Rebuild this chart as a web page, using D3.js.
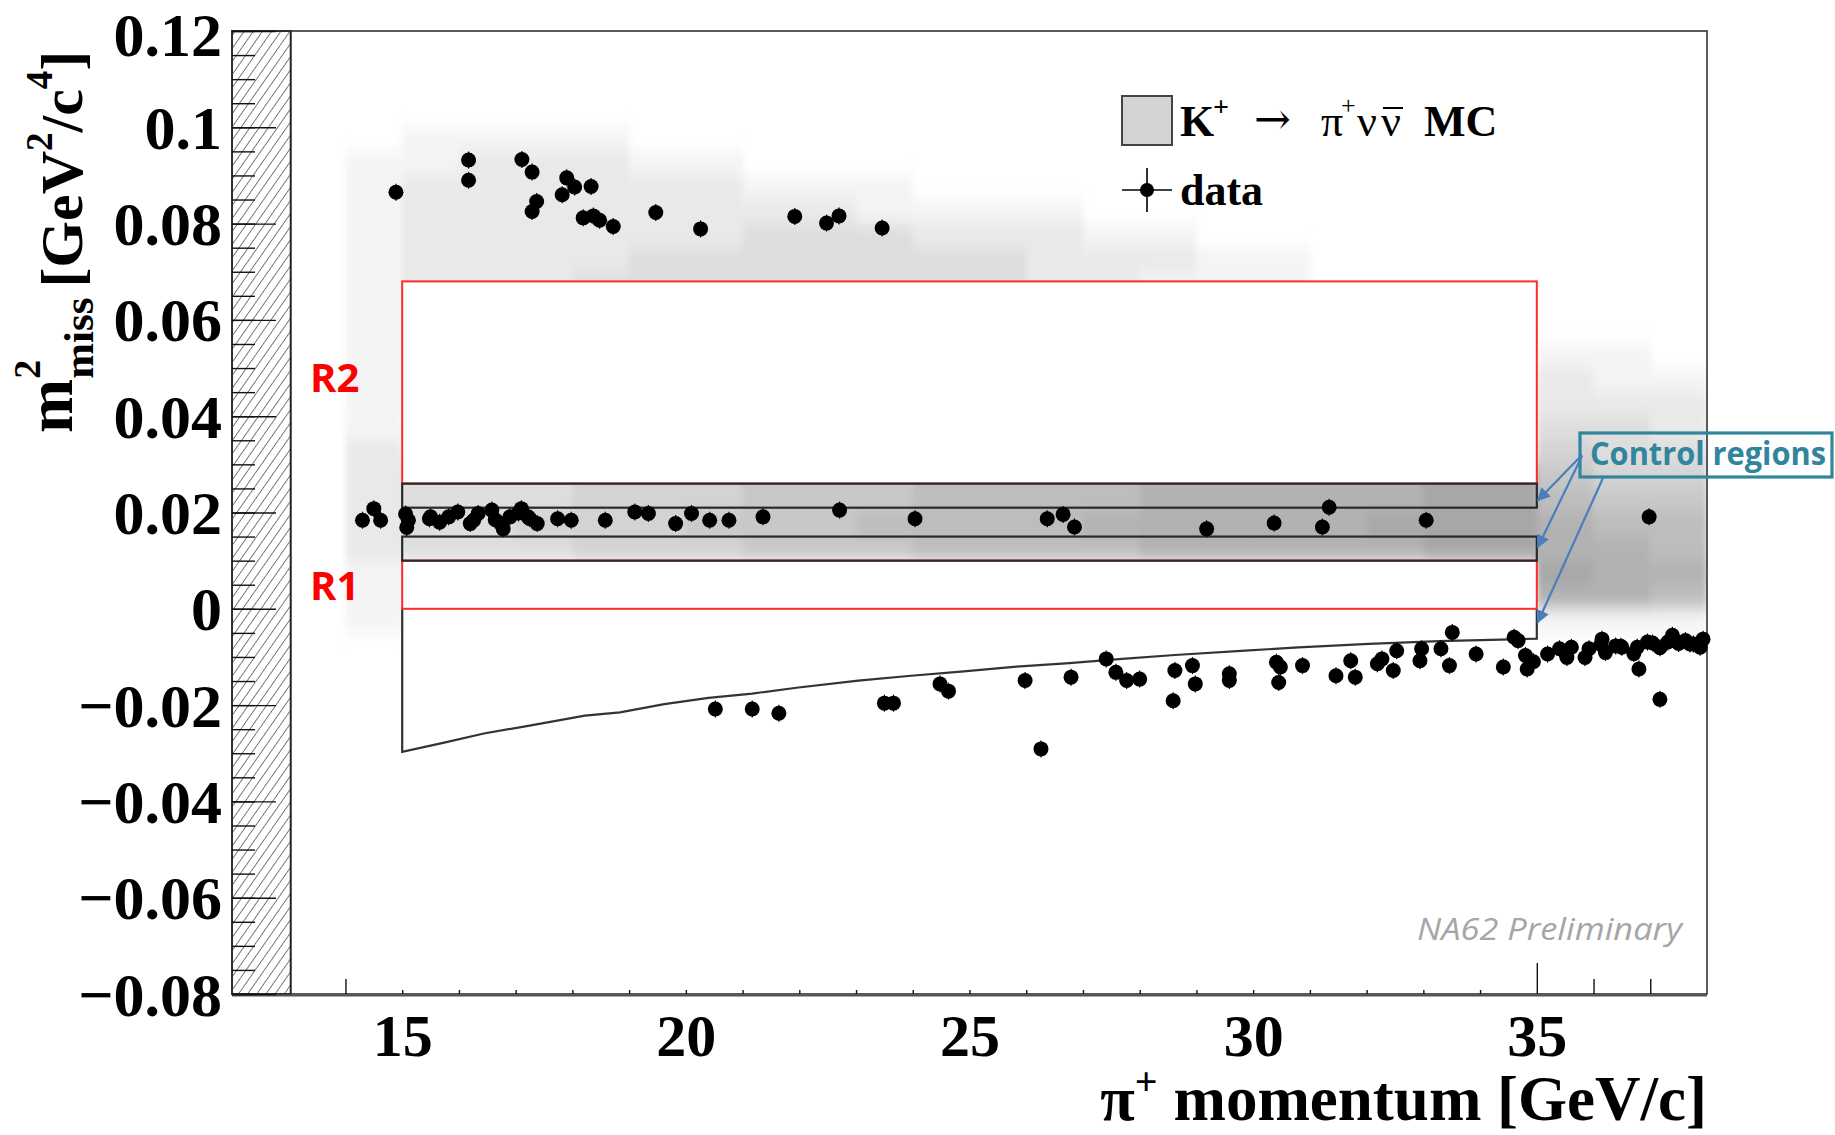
<!DOCTYPE html>
<html><head><meta charset="utf-8">
<script src="https://cdn.jsdelivr.net/npm/d3@7"></script>
<style>body{margin:0;background:#fff}svg{display:block}</style>
</head><body>
<svg id="c" width="1835" height="1135"></svg>
<script>
// ---------------- DATA ----------------
const xTickLabels = [15, 20, 25, 30, 35];
const yTickLabels = [0.12, 0.1, 0.08, 0.06, 0.04, 0.02, 0, -0.02, -0.04, -0.06, -0.08];

// MC (K+ -> pi+ nu nubar) 2D histogram: columns = momentum bins (lower edges), rows = m2 bins (lower edges)
const mcP = [14,15,16,17,18,19,20,21,22,23,24,25,26,27,28,29,30,31,32,33,34,35,36,37];
const mcM2 = [0.095,0.09,0.085,0.08,0.075,0.07,0.065,0.06,0.055,0.05,0.045,0.04,0.035,0.03,0.025,0.02,0.015,0.01,0.005,0,-0.005];
const mcRows = [
  "011110000000000000000000",
  "112221100000000000000000",
  "122222211100000000000000",
  "122222222111100000000000",
  "122222233322211000000000",
  "122223333333222110000000",
  "122233333333221110000000",
  "100000000000000000000000",
  "100000000000000000000000",
  "100000000000000000000110",
  "100000000000000000000211",
  "100000000000000000000222",
  "100000000000000000000332",
  "200000000000000000000433",
  "233344455566667777788544",
  "233344455566667777788655",
  "233444555666677777888766",
  "233344455566667777788776",
  "100000000000000000000877",
  "100000000000000000000776",
  "100000000000000000000111"
];

// data events
const dataP = [14.89,16.17,16.17,17.11,17.29,17.37,17.29,17.90,18.04,18.33,17.82,18.19,18.37,18.48,18.72,19.47,20.26,21.92,22.48,22.70,23.46,
  14.30,14.50,14.62,15.06,15.08,15.11,15.50,15.66,15.82,15.98,16.26,16.34,16.58,16.74,16.78,16.90,17.10,17.22,17.38,17.74,17.98,18.58,19.10,19.34,19.82,20.10,20.42,20.76,21.36,22.71,24.04,26.37,26.65,26.85,29.18,30.37,31.22,31.34,33.05,36.98,15.48,16.20,16.64,17.05,17.25,
  20.52,21.17,21.64,23.50,23.66,24.48,24.63,25.98,26.26,26.79,27.41,27.58,27.77,28.00,28.59,28.62,28.93,28.98,29.58,29.58,30.41,30.48,30.45,30.87,31.46,31.72,31.80,32.19,32.27,32.47,32.53,32.94,32.97,33.31,33.46,33.51,33.93,34.41,34.60,34.67,34.80,34.83,34.94,35.19,35.53,35.61,35.92,36.13,36.15,36.21,36.39,36.48,36.71,36.77,36.80,37.04,37.17,37.17,37.31,37.39,37.41,37.62,37.70,37.76,37.93,35.40,35.85,36.50,36.95,37.50,37.88];
const dataM2 = [0.0865,0.0932,0.0890,0.0933,0.0907,0.0846,0.0825,0.0895,0.0876,0.0877,0.0860,0.0812,0.0816,0.0807,0.0794,0.0823,0.0789,0.0815,0.0801,0.0816,0.0791,
  0.0184,0.0208,0.0184,0.0197,0.0169,0.0184,0.0191,0.0180,0.0191,0.0201,0.0184,0.0198,0.0205,0.0177,0.0166,0.0191,0.0208,0.0191,0.0177,0.0187,0.0184,0.0184,0.0201,0.0198,0.0177,0.0198,0.0184,0.0184,0.0191,0.0205,0.0187,0.0187,0.0196,0.0170,0.0166,0.0178,0.0170,0.0211,0.0184,0.0191,0.0187,0.0177,0.0185,0.0199,0.0187,
  -0.0208,-0.0208,-0.0217,-0.0196,-0.0196,-0.0156,-0.0171,-0.0149,-0.0291,-0.0142,-0.0104,-0.0132,-0.0149,-0.0146,-0.0191,-0.0128,-0.0118,-0.0156,-0.0135,-0.0149,-0.0111,-0.0121,-0.0153,-0.0118,-0.0139,-0.0108,-0.0142,-0.0114,-0.0104,-0.0128,-0.0087,-0.0108,-0.0083,-0.0083,-0.0118,-0.0049,-0.0094,-0.0121,-0.0059,-0.0066,-0.0097,-0.0125,-0.0110,-0.0094,-0.0101,-0.0080,-0.0083,-0.0074,-0.0063,-0.0091,-0.0077,-0.0078,-0.0093,-0.0080,-0.0125,-0.0071,-0.0188,-0.0081,-0.0069,-0.0055,-0.0064,-0.0066,-0.0073,-0.0073,-0.0063,-0.0083,-0.0101,-0.0080,-0.0069,-0.0072,-0.0080];

// kinematic boundary below the signal regions
const boundaryP = [15.00,15.74,16.44,17.22,18.22,18.84,19.62,20.40,21.17,21.95,23.04,23.97,24.90,25.83,26.76,27.69,28.62,29.86,30.80,32.04,33.28,34.37,35.00];
const boundaryM2 = [-0.0297,-0.0278,-0.0259,-0.0243,-0.0222,-0.0215,-0.0198,-0.0185,-0.0176,-0.0164,-0.0149,-0.0139,-0.0130,-0.0120,-0.0113,-0.0104,-0.0096,-0.0087,-0.0080,-0.0073,-0.0067,-0.0064,-0.0062];

const pRange = [15, 35];
const signalNames = ["R1", "R2"];
const signalLo = [0, 0.026];
const signalHi = [0.01, 0.068];
const controlLo = [0.010, 0.021];
const controlHi = [0.015, 0.026];
const hatchRange = [12, 13];
const arrowTargets = [0.0225, 0.0128, -0.0028];

// ---------------- DRAW ----------------
const svg = d3.select("#c");
const x = d3.scaleLinear().domain([12, 38]).range([232, 1707]);
const y = d3.scaleLinear().domain([-0.08, 0.12]).range([994, 31]);
const serif = "'Liberation Serif','Times New Roman',serif";
const sans = "'Open Sans','Noto Sans',sans-serif";

const defs = svg.append("defs");
defs.append("clipPath").attr("id", "plotclip").append("rect")
  .attr("x", x(12)).attr("y", y(0.12)).attr("width", x(38) - x(12)).attr("height", y(-0.08) - y(0.12));
const blur = defs.append("filter").attr("id", "blur").attr("x", "-5%").attr("y", "-5%").attr("width", "110%").attr("height", "110%");
blur.append("feGaussianBlur").attr("stdDeviation", "3 8");
const pat = defs.append("pattern").attr("id", "hatch").attr("patternUnits", "userSpaceOnUse")
  .attr("width", 7.5).attr("height", 7.5).attr("patternTransform", "rotate(35)");
pat.append("line").attr("x1", 0).attr("y1", 0).attr("x2", 0).attr("y2", 7.5).attr("stroke", "#222").attr("stroke-width", 1.2);
const mk = defs.append("marker").attr("id", "arr").attr("viewBox", "0 0 10 10").attr("refX", 9).attr("refY", 5)
  .attr("markerWidth", 6).attr("markerHeight", 6).attr("orient", "auto-start-reverse").attr("markerUnits", "strokeWidth");
mk.append("path").attr("d", "M0,0 L10,5 L0,10 z").attr("fill", "#4a7ebb");

// MC histogram
const cells = [];
mcRows.forEach((row, r) => row.split("").map(Number).forEach((d, c) => {
  if (d > 0) cells.push({ p: mcP[c], m: mcM2[r], d });
}));
const gray = d => { const v = Math.round(255 - 11 * d); return `rgb(${v},${v},${v})`; };
svg.append("g").attr("clip-path", "url(#plotclip)").append("g").attr("filter", "url(#blur)")
  .selectAll("rect").data(cells).join("rect")
  .attr("x", d => x(d.p)).attr("y", d => y(d.m + 0.005))
  .attr("width", d => x(d.p + 1) - x(d.p) + 0.5).attr("height", d => y(d.m) - y(d.m + 0.005) + 0.5)
  .attr("fill", d => gray(d.d));

// blinded signal regions (white)
svg.append("g").selectAll("rect").data(signalLo).join("rect")
  .attr("x", x(pRange[0])).attr("y", (d, i) => y(signalHi[i]))
  .attr("width", x(pRange[1]) - x(pRange[0])).attr("height", (d, i) => y(signalLo[i]) - y(signalHi[i]))
  .attr("fill", "#fff");

// hatched area
svg.append("rect").attr("x", x(hatchRange[0])).attr("y", y(0.12)).attr("width", x(hatchRange[1]) - x(hatchRange[0]) + 2)
  .attr("height", y(-0.08) - y(0.12)).attr("fill", "url(#hatch)").attr("stroke", "#222").attr("stroke-width", 2);

// frame
svg.append("rect").attr("x", x(12)).attr("y", y(0.12)).attr("width", x(38) - x(12)).attr("height", y(-0.08) - y(0.12))
  .attr("fill", "none").attr("stroke", "#333").attr("stroke-width", 1.6);
svg.append("line").attr("x1", x(12)).attr("x2", x(38)).attr("y1", y(-0.08) + 1.5).attr("y2", y(-0.08) + 1.5).attr("stroke", "#555").attr("stroke-width", 2);

// y ticks (inside, over hatch)
const yMinor = d3.range(-16, 25).map(i => +(i * 0.005).toFixed(3));
svg.append("g").attr("transform", `translate(${x(12)},0)`)
  .call(d3.axisRight(y).tickValues(yMinor).tickSize(23).tickFormat(""))
  .call(g => g.select(".domain").remove())
  .selectAll("line").attr("stroke", "#111").attr("stroke-width", 1.4);
svg.append("g").attr("transform", `translate(${x(12)},0)`)
  .call(d3.axisRight(y).tickValues(yTickLabels).tickSize(44).tickFormat(""))
  .call(g => g.select(".domain").remove())
  .selectAll("line").attr("stroke", "#111").attr("stroke-width", 1.4);
// y labels
svg.append("g").attr("transform", `translate(${x(12)},0)`)
  .call(d3.axisLeft(y).tickValues(yTickLabels).tickSize(0).tickPadding(10)
    .tickFormat(d => d === 0 ? "0" : (d < 0 ? "\u2212" : "") + String(Math.abs(d))))
  .call(g => g.select(".domain").remove())
  .selectAll("text").attr("font-family", serif).attr("font-weight", "bold").attr("font-size", 62).attr("fill", "#000")
  .attr("dy", d => d === 0.12 ? "0.4em" : "0.34em");

// x ticks
const xMinor = d3.range(15, 35);
const xt = svg.append("g").attr("transform", `translate(0,${y(-0.08)})`);
xt.append("g").call(d3.axisTop(x).tickValues(xMinor).tickSize(4).tickFormat(""));
xt.append("g").call(d3.axisTop(x).tickValues([14, 36, 37]).tickSize(15).tickFormat(""));
xt.append("g").call(d3.axisTop(x).tickValues([35]).tickSize(31).tickFormat(""));
xt.selectAll(".domain").remove();
xt.selectAll("line").attr("stroke", "#111").attr("stroke-width", 1.4);
svg.append("g").attr("transform", `translate(0,${y(-0.08)})`)
  .call(d3.axisBottom(x).tickValues(xTickLabels).tickSize(0).tickPadding(19))
  .call(g => g.select(".domain").remove())
  .selectAll("text").attr("font-family", serif).attr("font-weight", "bold").attr("font-size", 60).attr("fill", "#000");

// kinematic boundary
const bpts = [[pRange[0], 0]].concat(boundaryP.map((p, i) => [p, boundaryM2[i]])).concat([[pRange[1], 0]]);
svg.append("path").attr("d", d3.line().x(d => x(d[0])).y(d => y(d[1]))(bpts))
  .attr("fill", "none").attr("stroke", "#333").attr("stroke-width", 2.2);

// signal region boxes (red)
svg.append("g").selectAll("rect").data(signalLo).join("rect")
  .attr("x", x(pRange[0])).attr("y", (d, i) => y(signalHi[i]))
  .attr("width", x(pRange[1]) - x(pRange[0])).attr("height", (d, i) => y(signalLo[i]) - y(signalHi[i]))
  .attr("fill", "none").attr("stroke", "#ff2a2a").attr("stroke-width", 2);
// control region boxes (black)
svg.append("g").selectAll("rect").data(controlLo).join("rect")
  .attr("x", x(pRange[0])).attr("y", (d, i) => y(controlHi[i]))
  .attr("width", x(pRange[1]) - x(pRange[0])).attr("height", (d, i) => y(controlLo[i]) - y(controlHi[i]))
  .attr("fill", "none").attr("stroke", "#2a2a2a").attr("stroke-width", 2.2);

// data points
const pts = dataP.map((p, i) => [p, dataM2[i]]);
const dg = svg.append("g");
dg.selectAll("line").data(pts).join("line")
  .attr("x1", d => x(d[0])).attr("x2", d => x(d[0])).attr("y1", d => y(d[1]) - 8.5).attr("y2", d => y(d[1]) + 8.5)
  .attr("stroke", "#000").attr("stroke-width", 1.2);
dg.selectAll("circle").data(pts).join("circle")
  .attr("cx", d => x(d[0])).attr("cy", d => y(d[1])).attr("r", 7.5).attr("fill", "#000");

// region labels
svg.append("g").selectAll("text").data(signalNames).join("text")
  .attr("x", 310).attr("y", (d, i) => i === 0 ? 600 : 392)
  .attr("font-family", sans).attr("font-weight", "bold").attr("font-size", 40).attr("fill", "#ff0000")
  .text(d => d);

// legend
const lg = svg.append("g");
lg.append("rect").attr("x", 1122).attr("y", 96).attr("width", 50).attr("height", 49)
  .attr("fill", "#d3d3d3").attr("stroke", "#444").attr("stroke-width", 2);
const lfont = (sel, s) => sel.attr("font-family", serif).attr("font-size", s).attr("fill", "#000");
lfont(lg.append("text").attr("x", 1180).attr("y", 136).attr("font-weight", "bold"), 44).text("K");
lfont(lg.append("text").attr("x", 1213).attr("y", 116).attr("font-weight", "bold"), 28).text("+");
lg.append("text").attr("x", 1254).attr("y", 134).attr("font-family", "'DejaVu Serif',serif").attr("font-size", 44).text("\u2192");
lfont(lg.append("text").attr("x", 1321).attr("y", 136), 44).text("\u03c0");
lfont(lg.append("text").attr("x", 1341).attr("y", 114), 26).text("+");
lfont(lg.append("text").attr("x", 1357).attr("y", 136), 44).text("\u03bd");
lfont(lg.append("text").attr("x", 1381).attr("y", 136), 44).text("\u03bd");
lfont(lg.append("text").attr("x", 1424).attr("y", 136).attr("font-weight", "bold"), 44).text("MC");
lg.append("line").attr("x1", 1383).attr("x2", 1403).attr("y1", 108).attr("y2", 108).attr("stroke", "#000").attr("stroke-width", 2);
lg.append("line").attr("x1", 1122).attr("x2", 1172).attr("y1", 190).attr("y2", 190).attr("stroke", "#000").attr("stroke-width", 1.6);
lg.append("line").attr("x1", 1147).attr("x2", 1147).attr("y1", 168).attr("y2", 212).attr("stroke", "#000").attr("stroke-width", 1.6);
lg.append("circle").attr("cx", 1147).attr("cy", 190).attr("r", 7).attr("fill", "#000");
lfont(lg.append("text").attr("x", 1180).attr("y", 205).attr("font-weight", "bold"), 44).text("data");

// x title
const xtitle = svg.append("text").attr("x", 1707).attr("y", 1120).attr("text-anchor", "end")
  .attr("font-family", serif).attr("font-weight", "bold").attr("font-size", 63);
xtitle.append("tspan").text("\u03c0");
xtitle.append("tspan").attr("dy", -25).attr("font-size", 40).text("+");
xtitle.append("tspan").attr("dy", 25).text(" momentum [GeV/c]");

// y title (rotated, built piece by piece)
const yt = svg.append("g").attr("transform", "translate(82,433) rotate(-90)")
  .attr("font-family", serif).attr("font-weight", "bold").attr("fill", "#000");
let cx = 0;
const piece = (txt, size, dy, advance = true) => {
  const t = yt.append("text").attr("x", cx).attr("y", dy).attr("font-size", size).text(txt);
  const w = t.node().getComputedTextLength();
  if (advance) cx += w;
  return w;
};
piece("m", 65, -10);
const w2 = piece("2", 38, -42, false);
const wm = piece("miss", 43, 11, false);
cx += Math.max(w2, wm) + 10;
piece("[GeV", 60, 0);
piece("2", 37, -30);
piece("/c", 60, 0);
piece("4", 37, -30);
piece("]", 60, 0);

// Control regions annotation
const cr = svg.append("g");
cr.append("rect").attr("x", 1580).attr("y", 433).attr("width", 252).attr("height", 44)
  .attr("fill", "none").attr("stroke", "#31859c").attr("stroke-width", 3.2);
cr.append("text").attr("x", 1590).attr("y", 465).attr("font-family", sans).attr("font-weight", "bold")
  .attr("font-size", 32).attr("fill", "#31859c").attr("textLength", 236).attr("lengthAdjust", "spacingAndGlyphs")
  .text("Control regions");
const starts = [[1582, 455], [1582, 456], [1603, 478]];
cr.selectAll("line").data(arrowTargets).join("line")
  .attr("x1", (d, i) => starts[i][0]).attr("y1", (d, i) => starts[i][1])
  .attr("x2", x(pRange[1]) + 1).attr("y2", d => y(d))
  .attr("stroke", "#4a7ebb").attr("stroke-width", 2.2).attr("marker-end", "url(#arr)");

// NA62 Preliminary
svg.append("text").attr("x", 1417).attr("y", 940).attr("font-family", sans).attr("font-style", "italic")
  .attr("font-size", 31).attr("fill", "#a6a6a6").attr("textLength", 265).attr("lengthAdjust", "spacingAndGlyphs")
  .text("NA62 Preliminary");
</script>
</body></html>
